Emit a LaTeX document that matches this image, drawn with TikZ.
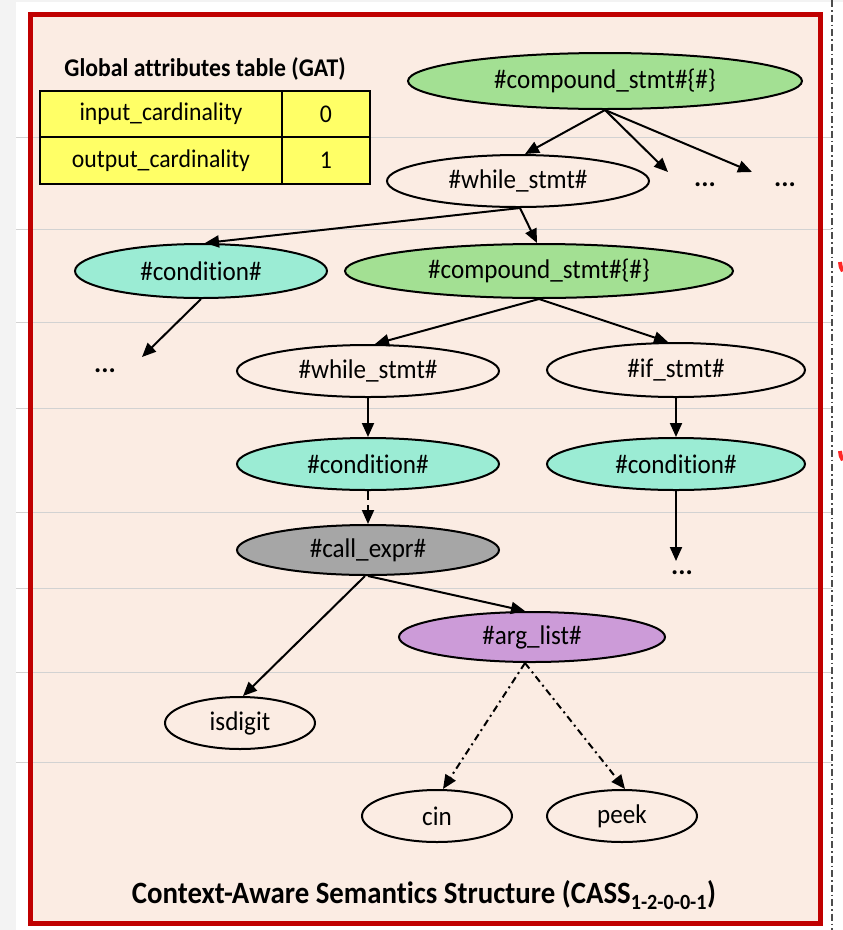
\documentclass[tikz,border=0pt]{standalone}
\usepackage{fontspec}
\setmainfont{Carlito}[Ligatures=NoCommon]
\newfontfamily\narrowfont{Carlito}[FakeStretch=0.93,Ligatures=NoCommon]
\usetikzlibrary{shapes.geometric,arrows.meta}

\definecolor{pagegray}{HTML}{F3F3F3}
\definecolor{frame}{HTML}{C00000}
\definecolor{peach}{HTML}{FBECE3}
\definecolor{rule}{HTML}{D2D2D2}
\definecolor{stmtgreen}{HTML}{A3E093}
\definecolor{condcyan}{HTML}{9BECD4}
\definecolor{callgray}{HTML}{A6A6A6}
\definecolor{argpurple}{HTML}{CC9BD8}
\definecolor{gatyellow}{HTML}{FFFF66}

\tikzset{
  astnode/.style={ellipse, draw=black, line width=2pt, inner sep=0pt,
    font=\narrowfont\fontsize{27}{30}\selectfont},
  plain/.style={astnode, fill=peach},
  stmt/.style={astnode, fill=stmtgreen},
  cond/.style={astnode, fill=condcyan},
  call/.style={astnode, fill=callgray},
  args/.style={astnode, fill=argpurple},
  wide/.style={minimum width=262pt, minimum height=52pt},
  leaf/.style={minimum width=150pt, minimum height=52pt},
  more/.style={font=\fontsize{27}{30}\selectfont\bfseries},
  arr/.style={draw=black, line width=2pt, -{Triangle[length=14pt,width=12pt]}},
  cell/.style={draw=black, line width=2pt, fill=gatyellow, inner sep=0pt,
    font=\narrowfont\fontsize{25.5}{28}\selectfont},
}

\begin{document}
\begin{tikzpicture}[x=1pt,y=-1pt]
  % page background
  \useasboundingbox (0,0) rectangle (843,930);
  \fill[white] (0,0) rectangle (843,930);
  \fill[pagegray] (0,0) rectangle (16,930);
  \fill[pagegray] (0,0) rectangle (843,1.5);

  % framed panel
  \fill[peach] (30,14.5) rectangle (820,923);

  % faint page rulings
  \foreach \yy in {137,229,322,408,512,588,672,762}
    \draw[rule, line width=1pt] (16,\yy) -- (832,\yy);

  \draw[frame, line width=5pt] (30,14.5) rectangle (820,923);

  % dash-dot margin line on the right
  \draw[black!70, line width=1.4pt, dash pattern=on 7pt off 3pt on 1.5pt off 3pt]
    (832,0) -- (832,930);
  \draw[red!85, line width=4pt] (840,262) arc[start angle=180, end angle=215, radius=16pt];
  \draw[red!85, line width=4pt] (840,451) arc[start angle=180, end angle=215, radius=16pt];

  % global attributes table
  \node[font=\narrowfont\fontsize{25.5}{28}\selectfont\bfseries] (gattitle) at (205,69)
    {Global attributes table (GAT)};
  \node[cell, minimum width=242pt, minimum height=46.5pt] (in) at (161,114)
    {input\_cardinality};
  \node[cell, minimum width=88pt, minimum height=46.5pt] (inv) at (326,114) {0};
  \node[cell, minimum width=242pt, minimum height=46.5pt] (out) at (161,160.5)
    {output\_cardinality};
  \node[cell, minimum width=88pt, minimum height=46.5pt] (outv) at (326,160.5) {1};

  % tree nodes
  \node[stmt, minimum width=394pt, minimum height=56pt] (cs1) at (605,81)
    {\#compound\_stmt\#\{\#\}};
  \node[plain, wide] (ws1) at (518,181) {\#while\_stmt\#};
  \node[more] (dA) at (705,185) {...};
  \node[more] (dB) at (785,185) {...};
  \node[cond, minimum width=252pt, minimum height=54pt] (cd1) at (201,271)
    {\#condition\#};
  \node[stmt, minimum width=388pt, minimum height=54pt] (cs2) at (539,271)
    {\#compound\_stmt\#\{\#\}};
  \node[more] (dC) at (105,371) {...};
  \node[plain, wide] (ws2) at (368,371) {\#while\_stmt\#};
  \node[plain, minimum width=258pt, minimum height=54pt] (if1) at (676,370)
    {\#if\_stmt\#};
  \node[cond, wide] (cd2) at (368,464) {\#condition\#};
  \node[cond, minimum width=258pt, minimum height=52pt] (cd3) at (676,464)
    {\#condition\#};
  \node[call, minimum width=262pt, minimum height=50pt] (ce) at (368,550)
    {\#call\_expr\#};
  \node[more] (dD) at (682,573) {...};
  \node[args, minimum width=266pt, minimum height=50pt] (al) at (532,637)
    {\#arg\_list\#};
  \node[plain, leaf] (isd) at (240,723) {isdigit};
  \node[plain, leaf] (cin) at (437,816) {cin};
  \node[plain, leaf] (peek) at (622,816) {peek};

  % free ends of the arrows that point at elided children
  \coordinate (tA) at (668,172);
  \coordinate (tB) at (752,172);
  \coordinate (tC) at (142,357);
  \coordinate (tD) at (676,561);

  % connectors
  \draw[arr] (cs1.south) -- ([xshift=7pt]ws1.north);
  \draw[arr] (cs1.south) -- (tA);
  \draw[arr] (cs1.south) -- (tB);
  \draw[arr] ([xshift=2pt]ws1.south) -- ([xshift=4pt]cd1.north);
  \draw[arr] ([xshift=2pt]ws1.south) -- ([xshift=-2pt]cs2.north);
  \draw[arr] (cd1.south) -- (tC);
  \draw[arr] (cs2.south) -- ([xshift=7pt]ws2.north);
  \draw[arr] (cs2.south) -- ([xshift=-8pt]if1.north);
  \draw[arr] (ws2.south) -- (cd2.north);
  \draw[arr] (if1.south) -- (cd3.north);
  \draw[arr, dash pattern=on 9pt off 5pt] (cd2.south) -- (ce.north);
  \draw[arr] (cd3.south) -- (tD);
  \draw[arr] (ce.south) -- ([xshift=-7pt]al.north);
  \draw[arr] ([xshift=-3pt]ce.south) -- ([xshift=3pt]isd.north);
  \draw[arr, dash pattern=on 7pt off 4pt on 2pt off 4pt]
    ([xshift=-7pt]al.south) -- ([xshift=6pt]cin.north);
  \draw[arr, dash pattern=on 7pt off 4pt on 2pt off 4pt]
    ([xshift=-7pt]al.south) -- ([xshift=3pt]peek.north);

  % caption
  \node[font=\narrowfont\fontsize{31}{34}\selectfont\bfseries] (caption) at (424,895)
    {Context-Aware Semantics Structure (CASS\textsubscript{1-2-0-0-1})};
\end{tikzpicture}
\end{document}
